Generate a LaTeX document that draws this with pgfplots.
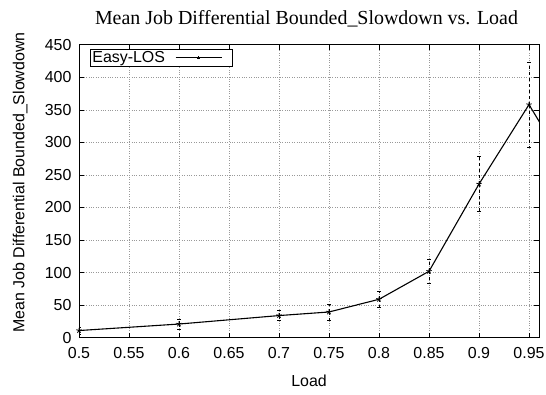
\documentclass[border=0pt]{standalone}
\usepackage{fontspec}
\setmainfont{Liberation Sans}
\newfontfamily\titlefont{Liberation Serif}
\usepackage{pgfplots}
\pgfplotsset{compat=1.18}
\usetikzlibrary{calc}
\begin{document}
\begin{tikzpicture}
\begin{axis}[
  width=460bp, height=293bp, scale only axis,
  xmin=0.5, xmax=0.96, ymin=0, ymax=450,
  xtick={0.5,0.55,0.6,0.65,0.7,0.75,0.8,0.85,0.9,0.95},
  ytick={0,50,100,150,200,250,300,350,400,450},
  xticklabels={0.5,0.55,0.6,0.65,0.7,0.75,0.8,0.85,0.9,0.95},
  tick label style={font=\fontsize{16}{19}\selectfont},
  /pgf/number format/assume math mode=true,
  tick align=inside, tick pos=both,
  major tick length=5bp,
  every tick/.style={black, line width=0.6pt},
  axis line style={line width=1pt},
  grid=major,
  major grid style={dotted, gray!80, line width=0.6pt},
  xticklabel style={yshift=-6bp},
  yticklabel style={xshift=-4bp},
  every axis x label/.style={at={(axis description cs:0.5,0)}, anchor=base, yshift=-49bp},
  every axis y label/.style={at={(axis description cs:-0.128,0.53)}, anchor=center, rotate=90},
  xlabel={Load},
  ylabel={Mean Job Differential Bounded\_Slowdown},
  label style={font=\fontsize{16}{19}\selectfont},
  legend style={at={(axis description cs:0,1)}, anchor=north west, xshift=11bp, yshift=-4bp,
    font=\fontsize{16}{19}\selectfont, draw=black, line width=0.8pt, inner xsep=0bp, inner ysep=0.5bp},
  legend plot pos=right,
  legend image code/.code={\path (-8bp,0bp) (56bp,0bp); \draw[black, line width=1.1pt] (0bp,0bp) -- (46bp,0bp); \draw[black, line width=0.8pt] (21.5bp,0bp) -- (24.5bp,0bp) (23bp,-1.5bp) -- (23bp,1.5bp);},
  clip=true,
]
\addplot[black, line width=1.1pt, mark=star, mark size=2.8pt, mark options={line width=0.8pt},
  error bars/.cd, y dir=both, y explicit,
  error bar style={dashed, line width=0.6pt},
  error mark options={line width=0.6pt, mark size=2pt, rotate=90}]
  coordinates {
  (0.5,11) +- (0,5)
  (0.6,21) +- (0,8)
  (0.7,34) +- (0,8)
  (0.75,39.5) +- (0,12)
  (0.8,59) +- (0,12)
  (0.85,102) +- (0,19)
  (0.9,236) +- (0,42)
  (0.95,358) +- (0,65)
  (0.97,307) +- (0,0)
  };
\addlegendentry{Easy-LOS}
\coordinate (sw) at (rel axis cs:0,0);
\coordinate (ne) at (rel axis cs:1,1);
\coordinate (tt) at (rel axis cs:0.5,1);
\end{axis}
\node[font=\titlefont\fontsize{20}{23}\selectfont, anchor=base] at ($(tt)+(-2.5bp,19.7bp)$) {Mean Job Differential Bounded\_Slowdown vs. Load};
\pgfresetboundingbox
\path ($(sw)+(-79bp,-56.3bp)$) rectangle ($(ne)+(7bp,44.7bp)$);
\end{tikzpicture}
\end{document}
